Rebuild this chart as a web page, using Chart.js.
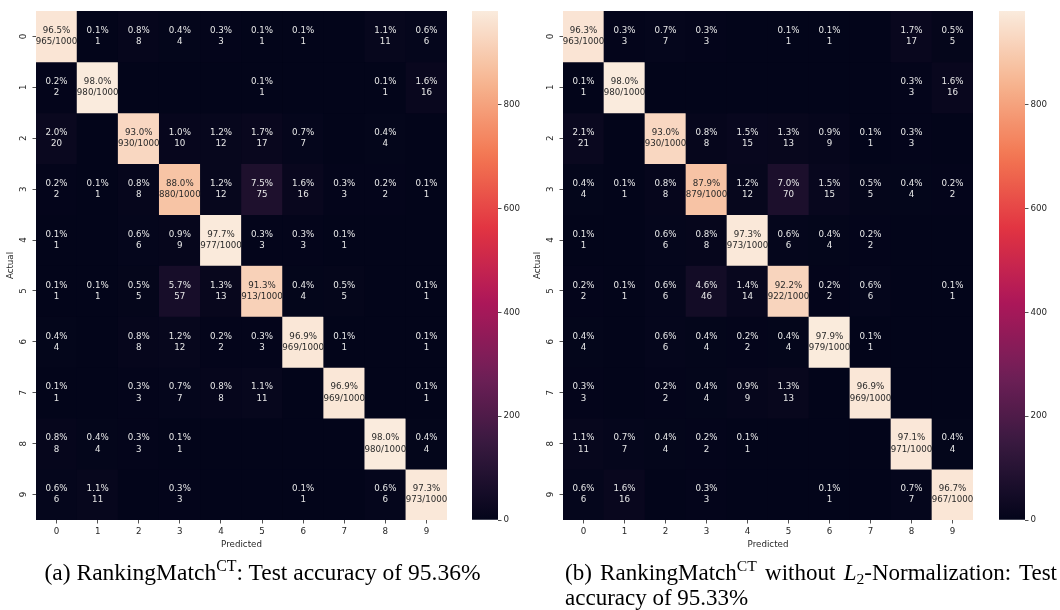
<!DOCTYPE html>
<html><head><meta charset="utf-8">
<script src="https://cdn.jsdelivr.net/npm/chart.js@4.4.0/dist/chart.umd.min.js"></script>
<style>
html,body{margin:0;padding:0;background:#fff;width:1060px;height:610px;overflow:hidden;position:relative;}
canvas{position:absolute;}
.cap{position:absolute;font-family:"Liberation Serif","Times New Roman",serif;font-size:23.5px;color:#000;line-height:25px;white-space:normal;}
.cap sup{font-size:68%;vertical-align:0.55em;line-height:0;}
.cap sub{font-size:68%;vertical-align:-0.25em;line-height:0;}
</style></head><body>
<canvas id="hmA" width="460" height="560" style="left:0;top:0"></canvas>
<canvas id="cbA" width="70" height="530" style="left:460px;top:0"></canvas>
<canvas id="hmB" width="460" height="560" style="left:527px;top:0"></canvas>
<canvas id="cbB" width="70" height="530" style="left:987px;top:0"></canvas>
<div class="cap" style="left:0;width:525px;top:560px;text-align:center;">(a) RankingMatch<sup>CT</sup>: Test accuracy of 95.36%</div>
<div class="cap" style="left:565px;width:492px;top:560px;font-size:23px;text-align:justify;text-align-last:left;">(b) RankingMatch<sup>CT</sup> without <i>L</i><sub>2</sub>-Normalization: Test accuracy of 95.33%</div>
<script>
// ---------------- data ----------------
const classes = ['0','1','2','3','4','5','6','7','8','9'];
const samplesPerClass = 1000;
const matrixA = [
  [965,   1,   8,   4,   3,   1,   1,   0,  11,   6],
  [  2, 980,   0,   0,   0,   1,   0,   0,   1,  16],
  [ 20,   0, 930,  10,  12,  17,   7,   0,   4,   0],
  [  2,   1,   8, 880,  12,  75,  16,   3,   2,   1],
  [  1,   0,   6,   9, 977,   3,   3,   1,   0,   0],
  [  1,   1,   5,  57,  13, 913,   4,   5,   0,   1],
  [  4,   0,   8,  12,   2,   3, 969,   1,   0,   1],
  [  1,   0,   3,   7,   8,  11,   0, 969,   0,   1],
  [  8,   4,   3,   1,   0,   0,   0,   0, 980,   4],
  [  6,  11,   0,   3,   0,   0,   1,   0,   6, 973]
];
const matrixB = [
  [963,   3,   7,   3,   0,   1,   1,   0,  17,   5],
  [  1, 980,   0,   0,   0,   0,   0,   0,   3,  16],
  [ 21,   0, 930,   8,  15,  13,   9,   1,   3,   0],
  [  4,   1,   8, 879,  12,  70,  15,   5,   4,   2],
  [  1,   0,   6,   8, 973,   6,   4,   2,   0,   0],
  [  2,   1,   6,  46,  14, 922,   2,   6,   0,   1],
  [  4,   0,   6,   4,   2,   4, 979,   1,   0,   0],
  [  3,   0,   2,   4,   9,  13,   0, 969,   0,   0],
  [ 11,   7,   4,   2,   1,   0,   0,   0, 971,   4],
  [  6,  16,   0,   3,   0,   0,   1,   0,   7, 967]
];
const colorbarTicks = [0, 200, 400, 600, 800];
const xTitle = 'Predicted';
const yTitle = 'Actual';

// ---------------- style ----------------
const rocketStops = [
  [0.000, [3, 5, 26]],
  [0.143, [53, 25, 62]],
  [0.286, [112, 31, 87]],
  [0.429, [173, 23, 89]],
  [0.571, [225, 51, 66]],
  [0.714, [243, 118, 81]],
  [0.857, [246, 180, 143]],
  [1.000, [250, 235, 221]]
];
function cmapRGB(t) {
  t = Math.max(0, Math.min(1, t));
  for (let i = 1; i < rocketStops.length; i++) {
    const [p1, c1] = rocketStops[i];
    const [p0, c0] = rocketStops[i - 1];
    if (t <= p1) {
      const f = (t - p0) / (p1 - p0);
      return c0.map((v, k) => Math.round(v + (c1[k] - v) * f));
    }
  }
  return rocketStops[rocketStops.length - 1][1];
}
const rgbStr = c => `rgb(${c[0]},${c[1]},${c[2]})`;
function luminance(c) {
  const l = c.map(v => { v /= 255; return v <= 0.03928 ? v / 12.92 : Math.pow((v + 0.055) / 1.055, 2.4); });
  return 0.2126 * l[0] + 0.7152 * l[1] + 0.0722 * l[2];
}
const SANS = '"DejaVu Sans", sans-serif';
const FS = 8.7;
const TXT = '#262626';

function makeHeatmap(id, M, padRight) {
  const vmax = Math.max(...M.flat());
  const datasets = M.map((row, r) => ({
    data: row.map(() => [r, r + 1]),
    backgroundColor: row.map(v => rgbStr(cmapRGB(v / vmax))),
    borderWidth: 0,
    grouped: false,
    barPercentage: 1,
    categoryPercentage: 1
  }));
  const bgPlugin = {
    id: 'bg',
    beforeDatasetsDraw(chart) {
      const a = chart.chartArea, ctx = chart.ctx;
      ctx.save(); ctx.fillStyle = rgbStr(cmapRGB(0));
      ctx.fillRect(a.left, a.top, a.right - a.left, a.bottom - a.top); ctx.restore();
    }
  };
  const annotPlugin = {
    id: 'annot',
    afterDatasetsDraw(chart) {
      const ctx = chart.ctx, xs = chart.scales.x, ys = chart.scales.y;
      ctx.save();
      ctx.font = `${FS}px ${SANS}`;
      ctx.textAlign = 'center'; ctx.textBaseline = 'middle';
      M.forEach((row, r) => row.forEach((v, j) => {
        if (!v) return;
        const x = xs.getPixelForValue(j);
        const y = ys.getPixelForValue(r + 0.5);
        const col = cmapRGB(v / vmax);
        ctx.fillStyle = luminance(col) > 0.408 ? '#2a2a2a' : '#e8e8e8';
        const pct = (v / samplesPerClass * 100).toFixed(1) + '%';
        const second = r === j ? `${v}/${samplesPerClass}` : String(v);
        ctx.fillText(pct, x, y - 5.6);
        ctx.fillText(second, x, y + 5.6);
      }));
      ctx.restore();
    },
    afterDraw(chart) {
      const ctx = chart.ctx, ys = chart.scales.y, a = chart.chartArea;
      ctx.save();
      ctx.font = `${FS}px ${SANS}`; ctx.fillStyle = TXT;
      ctx.textAlign = 'center'; ctx.textBaseline = 'middle';
      classes.forEach((c, i) => {
        const y = ys.getPixelForValue(i + 0.5);
        ctx.save(); ctx.translate(a.left - 12, y); ctx.rotate(-Math.PI / 2);
        ctx.fillText(c, 0, 0); ctx.restore();
      });
      ctx.restore();
    }
  };
  return new Chart(document.getElementById(id), {
    type: 'bar',
    data: { labels: classes, datasets },
    plugins: [bgPlugin, annotPlugin],
    options: {
      responsive: false, animation: false, devicePixelRatio: 1,
      layout: { padding: { left: 0, top: 11, right: padRight, bottom: 0 } },
      plugins: { legend: { display: false }, tooltip: { enabled: false }, title: { display: false } },
      scales: {
        x: {
          type: 'category', offset: true,
          grid: { display: true, drawOnChartArea: false, drawTicks: true, tickLength: 3.5, tickWidth: 0.8, color: TXT, offset: false },
          border: { display: false },
          ticks: { color: TXT, font: { family: SANS, size: FS }, padding: 3, maxRotation: 0, minRotation: 0 },
          title: { display: true, text: xTitle, color: TXT, font: { family: SANS, size: FS }, padding: { top: 0, bottom: 10.5 } },
          afterFit: s => { s.height = 40; }
        },
        y: {
          type: 'linear', min: 0, max: 10, reverse: true,
          grid: { display: true, drawOnChartArea: false, drawTicks: true, tickLength: 3.5, tickWidth: 0.8, color: TXT },
          border: { display: false },
          ticks: { display: false },
          afterBuildTicks: s => { s.ticks = classes.map((c, i) => ({ value: i + 0.5 })); },
          title: { display: true, text: yTitle, color: TXT, font: { family: SANS, size: FS }, padding: { top: 5.5, bottom: 0 } },
          afterFit: s => { s.width = 36; }
        }
      }
    }
  });
}

function makeColorbar(id, M) {
  const vmax = Math.max(...M.flat());
  return new Chart(document.getElementById(id), {
    type: 'bar',
    data: {
      labels: ['cb'],
      datasets: [{
        data: [[0, vmax]],
        borderWidth: 0, barPercentage: 1, categoryPercentage: 1,
        backgroundColor: ctx => {
          const ch = ctx.chart, ys = ch.scales.y;
          if (!ys || !ch.chartArea) return rgbStr(cmapRGB(0.5));
          const g = ch.ctx.createLinearGradient(0, ys.getPixelForValue(0), 0, ys.getPixelForValue(vmax));
          for (let i = 0; i <= 40; i++) { const t = i / 40; g.addColorStop(t, rgbStr(cmapRGB(t))); }
          return g;
        }
      }]
    },
    options: {
      responsive: false, animation: false, devicePixelRatio: 1,
      layout: { padding: { left: 12, top: 11, right: 0, bottom: 10 } },
      plugins: { legend: { display: false }, tooltip: { enabled: false } },
      scales: {
        x: { display: false },
        y: {
          position: 'right', min: 0, max: vmax,
          afterBuildTicks: s => { s.ticks = colorbarTicks.map(v => ({ value: v })); },
          grid: { display: true, drawOnChartArea: false, drawTicks: true, tickLength: 3.5, tickWidth: 0.8, color: TXT },
          border: { display: false },
          ticks: { color: TXT, font: { family: SANS, size: FS }, padding: 2 },
          afterFit: s => { s.width = 32; }
        }
      }
    }
  });
}

makeHeatmap('hmA', matrixA, 13);
makeColorbar('cbA', matrixA);
makeHeatmap('hmB', matrixB, 14);
makeColorbar('cbB', matrixB);
</script>
</body></html>
